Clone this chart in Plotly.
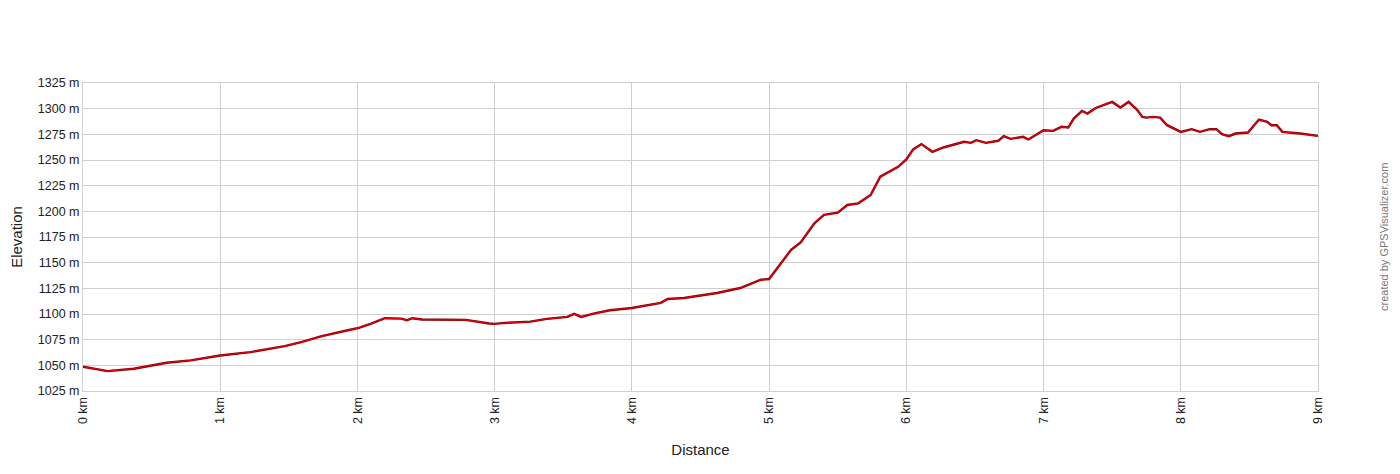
import plotly.graph_objects as go

distance_km = [0.0, 0.18, 0.37, 0.61, 0.785, 1.0, 1.22, 1.47, 1.59, 1.74, 1.93, 2.01, 2.10, 2.20,
               2.32, 2.36, 2.40, 2.47, 2.79, 2.88, 2.96, 3.0, 3.07, 3.26, 3.38, 3.53, 3.58, 3.63,
               3.72, 3.84, 4.0, 4.21, 4.26, 4.38, 4.62, 4.79, 4.94, 5.0, 5.09, 5.16, 5.23, 5.33,
               5.40, 5.50, 5.57, 5.65, 5.74, 5.81, 5.94, 6.0, 6.05, 6.11, 6.19, 6.27, 6.42, 6.47,
               6.51, 6.58, 6.67, 6.71, 6.76, 6.85, 6.89, 7.0, 7.07, 7.13, 7.18, 7.22, 7.28, 7.32,
               7.38, 7.50, 7.56, 7.62, 7.68, 7.72, 7.75, 7.80, 7.85, 7.90, 8.0, 8.08, 8.14, 8.21,
               8.26, 8.30, 8.35, 8.40, 8.49, 8.57, 8.63, 8.66, 8.70, 8.74, 8.87, 9.0]
elevation_m = [1048.6, 1044.4, 1046.7, 1052.5, 1054.8, 1059.6, 1062.9, 1068.7, 1072.6, 1078.4,
               1084.2, 1086.5, 1090.7, 1095.9, 1095.5, 1093.9, 1095.9, 1094.6, 1094.3, 1092.0,
               1090.7, 1090.4, 1091.3, 1092.6, 1095.2, 1097.2, 1100.1, 1097.2, 1100.4, 1103.6,
               1105.9, 1110.8, 1114.6, 1115.6, 1120.5, 1125.3, 1133.4, 1134.1, 1149.6, 1162.5,
               1169.7, 1188.4, 1196.5, 1198.8, 1206.2, 1207.8, 1215.9, 1233.7, 1243.4, 1250.6,
               1260.3, 1265.5, 1258.0, 1262.2, 1267.7, 1266.7, 1269.3, 1266.7, 1268.7, 1273.2,
               1270.6, 1272.6, 1270.0, 1279.0, 1278.4, 1282.3, 1281.6, 1290.4, 1297.8, 1295.2,
               1300.7, 1306.6, 1301.1, 1306.6, 1299.1, 1292.0, 1291.3, 1292.0, 1291.3, 1283.9,
               1277.4, 1280.0, 1277.4, 1280.0, 1280.0, 1275.2, 1273.2, 1275.8, 1276.8, 1289.4,
               1287.1, 1283.9, 1283.9, 1277.4, 1275.8, 1273.5]

x_ticks = list(range(0, 10))
x_tick_labels = [f"{k} km" for k in x_ticks]
y_ticks = list(range(1025, 1326, 25))
y_tick_labels = [f"{v} m" for v in y_ticks]

fig = go.Figure()
fig.add_trace(go.Scatter(x=distance_km, y=elevation_m, mode="lines",
                         line=dict(color="#8a0000", width=2.4), hoverinfo="skip"))
fig.add_trace(go.Scatter(x=distance_km, y=elevation_m, mode="lines",
                         line=dict(color="#e00010", width=1.1)))

axis_font = dict(family="Liberation Sans, Arial, sans-serif", size=12.5, color="#222")
fig.update_layout(
    width=1384, height=458,
    margin=dict(l=75, r=74, t=75, b=75),
    paper_bgcolor="white", plot_bgcolor="white",
    showlegend=False,
    font=dict(family="Liberation Sans, Arial, sans-serif", color="#222"),
    xaxis=dict(range=[0, 9], tickvals=x_ticks, ticktext=x_tick_labels, tickangle=-90,
               showgrid=True, gridcolor="#d0d0d0", gridwidth=1, zeroline=False,
               showline=True, linecolor="#d0d0d0", mirror=True, ticks="",
               tickfont=axis_font, automargin=False,
               title=dict(text="Distance", font=dict(size=15, color="#222"), standoff=21)),
    yaxis=dict(range=[1025, 1325], tickvals=y_ticks, ticktext=y_tick_labels,
               showgrid=True, gridcolor="#d0d0d0", gridwidth=1, zeroline=False,
               showline=True, linecolor="#d0d0d0", mirror=True, ticks="",
               tickfont=axis_font, automargin=False,
               title=dict(text="Elevation", font=dict(size=15, color="#222"), standoff=11)),
    annotations=[dict(text="created by GPSVisualizer.com", xref="paper", yref="paper",
                      x=1.0, xanchor="center", xshift=66, y=0.5, yanchor="middle",
                      textangle=-90, showarrow=False,
                      font=dict(size=11, color="#777"))],
)

fig.write_html("out.html")
